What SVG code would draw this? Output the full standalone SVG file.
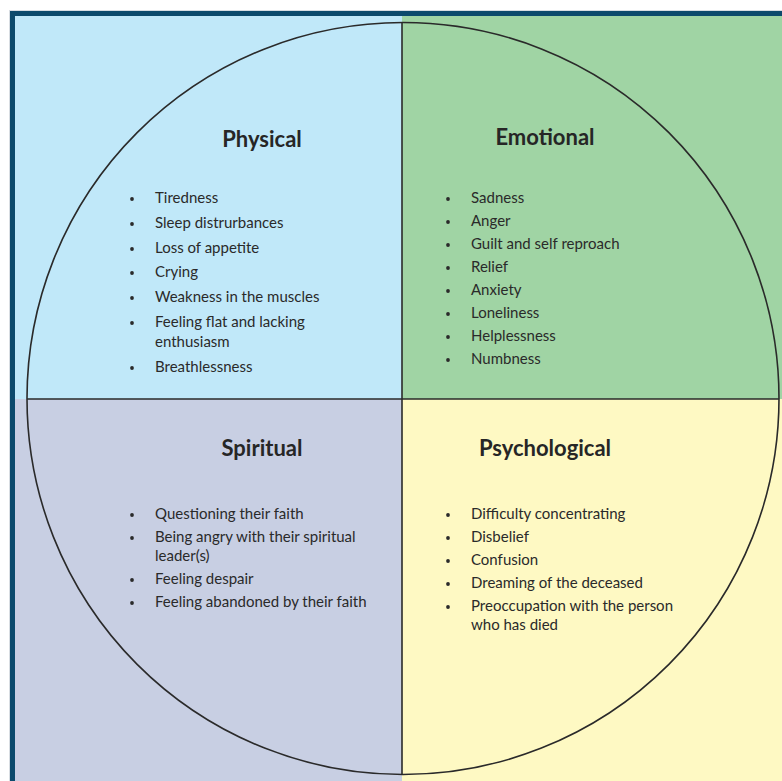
<svg xmlns="http://www.w3.org/2000/svg" width="782" height="781" viewBox="0 0 782 781">
  <style>
    .head { font-family: Lato, "Open Sans", sans-serif; font-weight: 700; font-size: 22px; fill: #262626; text-anchor: middle; }
    .item { font-family: Lato, "Open Sans", sans-serif; font-size: 15px; fill: #2a2a2a; }
    .dot { fill: #2a2a2a; }
    .rule { stroke: #2a2a2a; stroke-width: 1.6; fill: none; }
  </style>
  <defs>
    <circle id="bullet" r="1.9" class="dot"/>
  </defs>
  <rect width="782" height="781" fill="#ffffff"/>
  <!-- quadrant backgrounds -->
  <rect x="15" y="16" width="387" height="383" fill="#c0e8f9"/>
  <rect x="402" y="16" width="380" height="383" fill="#a0d4a4"/>
  <rect x="15" y="399" width="387" height="382" fill="#c8cfe3"/>
  <rect x="402" y="399" width="380" height="382" fill="#fef9c3"/>
  <!-- frame -->
  <rect x="9.5" y="10.5" width="773" height="771" fill="none" stroke="#d8dde2" stroke-width="1"/>
  <rect x="10" y="11" width="772" height="5" fill="#0c4a6c"/>
  <rect x="10" y="11" width="5" height="770" fill="#0c4a6c"/>

  <g id="connectors">
    <circle class="rule" cx="403" cy="398.5" r="376"/>
    <line class="rule" x1="402" y1="22.5" x2="402" y2="774.5"/>
    <line class="rule" x1="27" y1="399" x2="779" y2="399"/>
  </g>

  <g id="physical">
    <text class="head" x="262" y="147">Physical</text>
    <use href="#bullet" x="132" y="199"/>
    <text class="item" x="155" y="203">Tiredness</text>
    <use href="#bullet" x="132" y="224"/>
    <text class="item" x="155" y="228">Sleep distrurbances</text>
    <use href="#bullet" x="132" y="249"/>
    <text class="item" x="155" y="253">Loss of appetite</text>
    <use href="#bullet" x="132" y="273"/>
    <text class="item" x="155" y="277">Crying</text>
    <use href="#bullet" x="132" y="298"/>
    <text class="item" x="155" y="302">Weakness in the muscles</text>
    <use href="#bullet" x="132" y="323"/>
    <text class="item" x="155" y="327">Feeling flat and lacking</text>
    <text class="item" x="155" y="347">enthusiasm</text>
    <use href="#bullet" x="132" y="368"/>
    <text class="item" x="155" y="372">Breathlessness</text>
  </g>

  <g id="emotional">
    <text class="head" x="545" y="145">Emotional</text>
    <use href="#bullet" x="448" y="199"/>
    <text class="item" x="471" y="203">Sadness</text>
    <use href="#bullet" x="448" y="222"/>
    <text class="item" x="471" y="226">Anger</text>
    <use href="#bullet" x="448" y="245"/>
    <text class="item" x="471" y="249">Guilt and self reproach</text>
    <use href="#bullet" x="448" y="268"/>
    <text class="item" x="471" y="272">Relief</text>
    <use href="#bullet" x="448" y="291"/>
    <text class="item" x="471" y="295">Anxiety</text>
    <use href="#bullet" x="448" y="314"/>
    <text class="item" x="471" y="318">Loneliness</text>
    <use href="#bullet" x="448" y="337"/>
    <text class="item" x="471" y="341">Helplessness</text>
    <use href="#bullet" x="448" y="360"/>
    <text class="item" x="471" y="364">Numbness</text>
  </g>

  <g id="spiritual">
    <text class="head" x="262" y="456">Spiritual</text>
    <use href="#bullet" x="132" y="515"/>
    <text class="item" x="155" y="519">Questioning their faith</text>
    <use href="#bullet" x="132" y="538"/>
    <text class="item" x="155" y="542">Being angry with their spiritual</text>
    <text class="item" x="155" y="561">leader(s)</text>
    <use href="#bullet" x="132" y="580"/>
    <text class="item" x="155" y="584">Feeling despair</text>
    <use href="#bullet" x="132" y="603"/>
    <text class="item" x="155" y="607">Feeling abandoned by their faith</text>
  </g>

  <g id="psychological">
    <text class="head" x="545" y="456">Psychological</text>
    <use href="#bullet" x="448" y="515"/>
    <text class="item" x="471" y="519">Difficulty concentrating</text>
    <use href="#bullet" x="448" y="538"/>
    <text class="item" x="471" y="542">Disbelief</text>
    <use href="#bullet" x="448" y="561"/>
    <text class="item" x="471" y="565">Confusion</text>
    <use href="#bullet" x="448" y="584"/>
    <text class="item" x="471" y="588">Dreaming of the deceased</text>
    <use href="#bullet" x="448" y="607"/>
    <text class="item" x="471" y="611">Preoccupation with the person</text>
    <text class="item" x="471" y="630">who has died</text>
  </g>
</svg>
